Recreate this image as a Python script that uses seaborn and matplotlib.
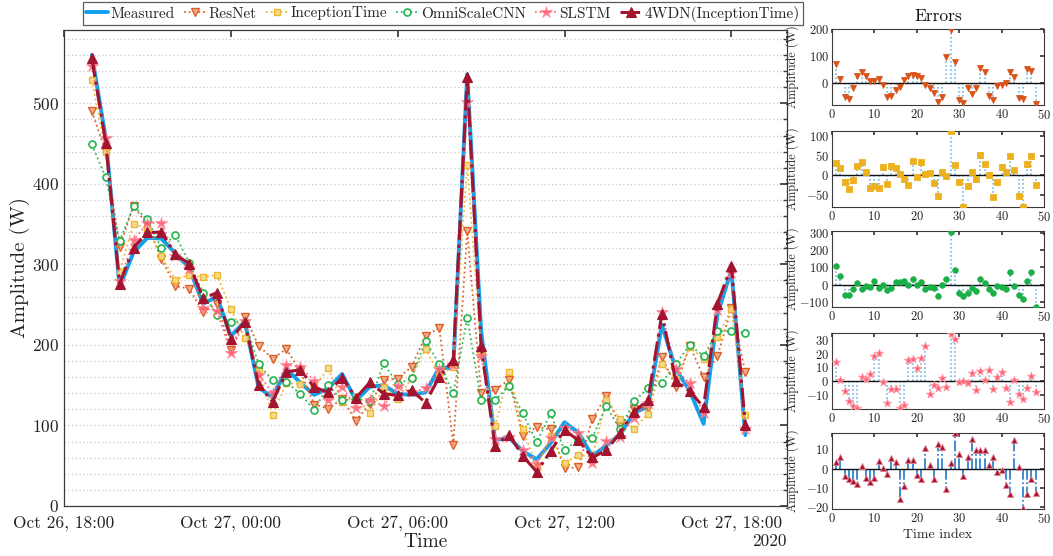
import numpy as np
import pandas as pd
import matplotlib
matplotlib.use("Agg")
import matplotlib.pyplot as plt
from matplotlib.ticker import MultipleLocator
import seaborn as sns

# Measured power, one sample every 30 minutes
measured = [560, 457, 272, 315, 333, 332, 314, 296, 251, 260,
            211, 229, 147, 135, 170, 153, 138, 146, 164, 131,
            148, 150, 139, 138, 141, 172, 171, 536, 217, 82,
            85, 68, 58, 78, 104, 91, 62, 75, 89, 116,
            123, 225, 170, 143, 102, 238, 293, 88]

# Errors (measured - predicted) of each model
err_resnet = [70, 17, -49, -58, -16, 25, 41, 26, 10, 9,
              17, -6, -52, -48, -25, -14, 12, 25, 31, 25,
              21, -6, -19, -35, -70, -49, 95, 195, 77, -62,
              -72, -19, -40, -17, 57, 43, -46, -62, -10, -5,
              1, 40, 22, -56, -58, 52, 47, -78]
err_inception = [31, 17, -19, -35, -12, 22, 33, 9, -33, -27,
                 -33, 20, -22, 22, 17, 2, -9, -25, 35, -4,
                 33, 2, 6, -21, -54, 9, -2, 112, 25, -17,
                 -81, -27, 9, -9, 51, 28, 1, -57, -19, 20,
                 9, 49, 12, -54, -81, 28, 49, -25]
err_omniscale = [111, 49, -57, -57, -23, 12, -23, -6, -14, 23,
                 -18, 0, -29, -21, 16, 14, 19, -4, 33, -2,
                 18, -27, -12, -21, -64, -4, 31, 302, 86, -49,
                 -64, -47, -21, -37, 35, 8, -23, -49, -6, -14,
                 -23, 72, -6, -57, -84, 21, 76, -127]
err_slstm = [13.5, 0.5, -7.6, -15, -18.4, -19.6, 3.2, 1.5, 4.9, 17.9,
             20.6, -0.7, -16.2, -5.6, -5.6, -19.6, -17.4, 15, 15.9, 9.1,
             16.4, 25.5, -9.8, -3.2, -5.1, 2.2, -4.2, 34.6, 30.6, -0.7,
             -0.2, -1.5, 5.9, -6.4, 7.4, 0.5, 8.3, -5.9, 2.9, 6.6,
             -4.9, -15.7, 0.5, -9.3, -13.2, -4.9, 3.9, -8.1]
err_4wdn = [3.2, 6.2, -3.9, -5.7, -6.7, -8, 1.4, -5, -6.9, -4.8,
            3.7, 0.5, -2.8, 5.5, 3.4, -16, -9.2, 4.6, 4.6, -3.4,
            -5.5, 10.6, 1.8, -5.7, 12.6, 11.5, -10.6, 3, 18.4, 7.8,
            -3.7, 6, 15.6, 9.9, 9.6, 9.6, 1.6, 6, -1.9, -0.9,
            -8.5, -13.3, 14.7, 0.7, -20.9, -13.3, -5.3, -12.6]

model_names = ["ResNet", "InceptionTime", "OmniScaleCNN", "SLSTM", "4WDN(InceptionTime)"]
model_errors = [err_resnet, err_inception, err_omniscale, err_slstm, err_4wdn]

xtick_labels = ["Oct 26, 18:00", "Oct 27, 00:00", "Oct 27, 06:00",
                "Oct 27, 12:00", "Oct 27, 18:00"]

times = pd.date_range("2020-10-26 19:00", periods=len(measured), freq="30min")
meas = np.array(measured, dtype=float)

sns.set_theme(style="white")
plt.rcParams.update({
    "font.family": ["cmr10", "DejaVu Serif"],
    "mathtext.fontset": "cm",
    "axes.formatter.use_mathtext": True,
    "axes.unicode_minus": True,
})

W, H = 1053, 556
fig = plt.figure(figsize=(W / 100, H / 100), dpi=100)

def box(x0, top, x1, bottom):
    return [x0 / W, 1 - bottom / H, (x1 - x0) / W, (bottom - top) / H]

axis_color = "#3a3a3a"

# ---- main time-series panel ----
ax = fig.add_axes(box(64, 30, 787, 506))

styles = {
    "ResNet": dict(color="#D95319", linestyle=":", marker="v", markersize=5.5,
                   markerfacecolor="#F2A77F", markeredgecolor="#D95319",
                   markeredgewidth=1.0, linewidth=1.3, alpha=0.9),
    "InceptionTime": dict(color="#EDB120", linestyle=":", marker="s", markersize=4.5,
                          markerfacecolor="#F7D98A", markeredgecolor="#EDB120",
                          markeredgewidth=1.0, linewidth=1.3, alpha=0.9),
    "OmniScaleCNN": dict(color="#1BAF48", linestyle=":", marker="o", markersize=5,
                         markerfacecolor="white", markeredgecolor="#1BAF48",
                         markeredgewidth=1.3, linewidth=1.3, alpha=0.9),
    "SLSTM": dict(color="#FF5C70", linestyle=":", marker="*", markersize=9,
                  markerfacecolor="#FF5C70", markeredgecolor="#FF8A98",
                  markeredgewidth=0.6, linewidth=1.3, alpha=0.85),
    "4WDN(InceptionTime)": dict(color="#A2142F", linestyle="-.", marker="^", markersize=7,
                                markerfacecolor="#A2142F", markeredgecolor="#A2142F",
                                markeredgewidth=0.8, linewidth=2.2),
}

sns.lineplot(x=times, y=meas, ax=ax, color="#12A0EC", linewidth=2.8,
             label="Measured", zorder=2)
for name, err in zip(model_names, model_errors):
    pred = meas - np.array(err, dtype=float)
    sns.lineplot(x=times, y=pred, ax=ax, label=name,
                 zorder=4 if name.startswith("4WDN") else 3, **styles[name])

ax.set_xlim(pd.Timestamp("2020-10-26 18:00"), pd.Timestamp("2020-10-27 20:00"))
ax.set_ylim(0, 591)
ticks = pd.date_range("2020-10-26 18:00", periods=5, freq="6h")
ax.set_xticks(ticks)
ax.set_xticklabels(xtick_labels)
ax.yaxis.set_major_locator(MultipleLocator(100))
ax.yaxis.set_minor_locator(MultipleLocator(20))
ax.grid(which="both", axis="y", linestyle=(0, (1, 2)), color="#c9c9c9", linewidth=0.9)
ax.grid(which="both", axis="x", visible=False)
ax.tick_params(which="both", direction="in", top=True, right=True,
               colors=axis_color, labelcolor="#222222", labelsize=12.5)
ax.tick_params(which="major", length=5)
ax.tick_params(axis="x", which="major", pad=7)
ax.tick_params(which="minor", length=3, top=False, bottom=False)
for s in ax.spines.values():
    s.set_color(axis_color)
    s.set_linewidth(0.9)
ax.set_xlabel("Time", fontsize=14, color="#222222", labelpad=1)
ax.set_ylabel("Amplitude (W)", fontsize=15, color="#222222", labelpad=0)
ax.yaxis.set_label_coords(-0.047, 0.5)
ax.text(1.0, -0.075, "2020", transform=ax.transAxes, ha="right", va="center",
        fontsize=12.5, color="#222222")

handles, labels = ax.get_legend_handles_labels()
if ax.get_legend() is not None:
    ax.get_legend().remove()
leg = fig.legend(handles, labels, loc="center", bbox_to_anchor=(443 / W, 1 - 13.5 / H),
                 ncol=6, frameon=True, fancybox=False, fontsize=11,
                 handlelength=1.4, handletextpad=0.2, columnspacing=0.6,
                 borderpad=0.25, borderaxespad=0)
leg.get_frame().set_edgecolor("#333333")
leg.get_frame().set_linewidth(0.9)

# ---- error stem panels ----
idx = np.arange(1, len(measured) + 1)
panel_tops = [29, 131, 231, 333, 433]
panel_ylims = [(-80, 200), (-82, 113), (-128, 310), (-20.5, 35), (-21.2, 18.6)]
panel_yticks = [[0, 100, 200], [-50, 0, 50, 100], [-100, 0, 100, 200, 300],
                [-10, 0, 10, 20, 30], [-20, -10, 0, 10]]
panel_marker = [("v", "#D95319", "#D95319", 18), ("s", "#EDB120", "#EDB120", 16),
                ("o", "#1BAF48", "#1BAF48", 16), ("*", "#FF5C70", "#FF9AA6", 38),
                ("^", "#A2142F", "#E58A9A", 20)]

for k, (err, top) in enumerate(zip(model_errors, panel_tops)):
    pax = fig.add_axes(box(832, top, 1044, top + 76))
    e = np.array(err, dtype=float)
    if k == 4:
        pax.vlines(idx, 0, e, colors="#1f78c8", linestyles="-.", linewidth=1.2, zorder=1)
    else:
        pax.vlines(idx, 0, e, colors="#5aaee0", linestyles=":", linewidth=1.1, zorder=1)
    pax.axhline(0, color="#111111", linewidth=1.0, zorder=2)
    m, fc, ec, sz = panel_marker[k]
    sns.scatterplot(x=idx, y=e, ax=pax, marker=m, color=fc, edgecolor=ec,
                    linewidth=0.6, s=sz, zorder=3, legend=False)
    pax.set_xlim(0, 50)
    pax.set_ylim(*panel_ylims[k])
    pax.set_xticks([0, 10, 20, 30, 40, 50])
    pax.set_yticks(panel_yticks[k])
    pax.tick_params(direction="in", top=True, right=True, length=3,
                    colors=axis_color, labelcolor="#222222", labelsize=9, pad=2)
    for s in pax.spines.values():
        s.set_color(axis_color)
        s.set_linewidth(0.8)
    pax.set_ylabel("Amplitude (W)", fontsize=8.8, color="#222222")
    pax.yaxis.set_label_coords(-0.155, 0.5)
    pax.set_xlabel("")
    if k == 0:
        pax.set_title("Errors", fontsize=12.5, color="#111111", pad=6)
    if k == 4:
        pax.set_xlabel("Time index", fontsize=10, color="#222222", labelpad=2)

fig.savefig("out.png", dpi=100)
